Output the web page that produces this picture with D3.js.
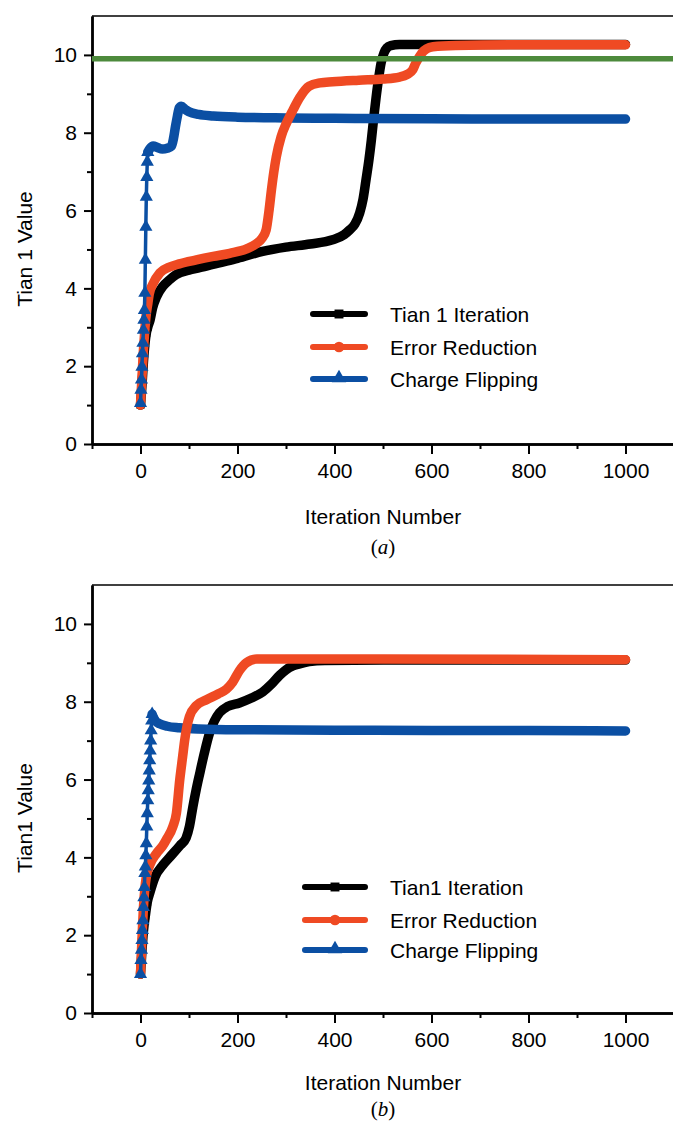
<!DOCTYPE html>
<html>
<head>
<meta charset="utf-8">
<script src="https://cdn.jsdelivr.net/npm/d3@7"></script>
<style>
  html, body { margin: 0; padding: 0; background: #fff; }
  svg { display: block; }
  text { font-family: "Liberation Sans", Arial, Helvetica, sans-serif; fill: #000; }
</style>
</head>
<body>
<svg id="chart" width="673" height="1129"></svg>
<script>
// ---- axis settings ----
const xDomain = [-100, 1100];
const yDomain = [0, 11];
const xMajorTicks = [0, 200, 400, 600, 800, 1000];
const xMinorTicks = [-100, 100, 300, 500, 700, 900, 1100];
const yMajorTicks = [0, 2, 4, 6, 8, 10];
const yMinorTicks = [1, 3, 5, 7, 9];

const xTitle = "Iteration Number";
const yTitleA = "Tian 1 Value";
const yTitleB = "Tian1 Value";
const legendNamesA = ["Tian 1 Iteration", "Error Reduction", "Charge Flipping"];
const legendNamesB = ["Tian1 Iteration", "Error Reduction", "Charge Flipping"];

// horizontal reference level in panel (a)
const referenceLevelA = 9.9;

// ---- panel (a): [iteration, value] ----
const tianA = [
  [0,1.0],[3,1.5],[6,2.1],[9,2.55],[12,2.85],[15,3.0],[20,3.2],[25,3.5],[33,3.78],
  [46,4.05],[60,4.22],[73,4.35],[100,4.47],[122,4.53],[160,4.65],[200,4.77],
  [252,4.95],[300,5.06],[350,5.14],[396,5.25],[420,5.38],[431,5.5],[442,5.65],
  [452,5.94],[459,6.3],[465,6.79],[471,7.3],[476,7.81],[481,8.4],[486,8.93],
  [491,9.4],[496,9.79],[502,10.05],[508,10.18],[516,10.24],[534,10.27],
  [600,10.27],[800,10.27],[1000,10.27]
];
const errorA = [
  [0,1.0],[3,1.7],[6,2.4],[9,2.95],[12,3.35],[15,3.6],[18,3.85],[25,4.1],[40,4.4],
  [60,4.55],[80,4.63],[115,4.73],[150,4.82],[184,4.9],[220,5.02],[239,5.15],
  [250,5.28],[259,5.5],[265,6.0],[270,6.53],[275,7.0],[280,7.38],[290,7.9],
  [301,8.25],[315,8.6],[328,8.9],[348,9.2],[370,9.28],[396,9.31],[450,9.35],
  [500,9.38],[534,9.43],[550,9.5],[561,9.61],[568,9.8],[575,9.95],[582,10.08],
  [590,10.16],[603,10.21],[650,10.24],[800,10.26],[1000,10.26]
];
const flipA = [
  [0,1.05],[1,1.39],[2,1.65],[3,1.98],[4,2.33],[5,2.6],[6,2.93],[7,3.19],[8,3.44],
  [9,3.88],[10,4.73],[11,5.58],[12,6.35],[13,6.86],[14,7.25],[15,7.5],
  [20,7.6],[26,7.66],[35,7.62],[45,7.58],[55,7.6],[64,7.66],[68,7.85],[72,8.15],
  [76,8.42],[80,8.64],[84,8.68],[92,8.6],[100,8.54],[120,8.47],[150,8.43],
  [200,8.4],[300,8.38],[400,8.37],[600,8.36],[800,8.35],[1000,8.35]
];

// ---- panel (b): [iteration, value] ----
const tianB = [
  [0,1.0],[3,1.6],[6,2.1],[10,2.5],[14,2.85],[19,3.08],[30,3.5],[46,3.8],[60,4.0],
  [81,4.3],[94,4.5],[101,4.8],[108,5.3],[115,5.75],[122,6.15],[132,6.7],
  [142,7.18],[152,7.5],[163,7.72],[180,7.88],[204,7.97],[230,8.1],[252,8.25],
  [270,8.45],[287,8.68],[300,8.82],[314,8.92],[330,8.98],[348,9.03],[380,9.06],
  [500,9.07],[1000,9.07]
];
const errorB = [
  [0,1.0],[3,1.9],[6,2.7],[9,3.2],[12,3.5],[19,3.8],[33,4.1],[46,4.3],[53,4.45],
  [67,4.8],[74,5.13],[81,6.0],[87,6.6],[91,7.0],[96,7.38],[101,7.62],[115,7.9],
  [136,8.05],[160,8.2],[177,8.32],[190,8.5],[204,8.8],[218,9.0],[240,9.1],
  [300,9.1],[500,9.1],[1000,9.08]
];
const flipB = [
  [0,1.0],[1,1.36],[2,1.62],[3,1.87],[4,2.13],[5,2.38],[6,2.72],[7,2.97],[8,3.23],
  [9,3.59],[10,3.76],[11,4.05],[12,4.36],[13,4.79],[14,5.13],[15,5.46],[16,5.72],
  [17,5.97],[18,6.23],[19,6.49],[20,6.74],[21,7.0],[22,7.26],[23,7.51],[24,7.68],
  [30,7.52],[40,7.43],[55,7.37],[80,7.33],[120,7.3],[200,7.28],[400,7.27],
  [600,7.26],[800,7.26],[1000,7.25]
];

// ---- styling ----
const seriesColors = ["#000000", "#ef4a23", "#0b4fa3"];
const seriesShapes = [d3.symbolSquare, d3.symbolCircle, d3.symbolTriangle];
const greenColor = "#4d8a3c";
const fontSize = 21;

const svg = d3.select("#chart");

function drawPanel(cfg) {
  const x = d3.scaleLinear().domain(xDomain).range([cfg.left, cfg.right]);
  const y = d3.scaleLinear().domain(yDomain).range([cfg.bottom, cfg.top]);
  const g = svg.append("g");

  // frame top edge
  g.append("line")
    .attr("x1", cfg.left).attr("x2", cfg.right)
    .attr("y1", cfg.top).attr("y2", cfg.top)
    .attr("stroke", "#000").attr("stroke-width", 1.6);

  // x axis: major ticks with labels, minor ticks without
  const xAxis = g.append("g").attr("transform", `translate(0,${cfg.bottom})`);
  xAxis.call(d3.axisBottom(x).tickValues(xMajorTicks).tickFormat(d3.format("d"))
    .tickSize(10).tickPadding(9).tickSizeOuter(0));
  xAxis.append("g").call(d3.axisBottom(x).tickValues(xMinorTicks).tickSize(5).tickFormat("").tickSizeOuter(0));
  // y axis
  const yAxis = g.append("g").attr("transform", `translate(${cfg.left},0)`);
  yAxis.call(d3.axisLeft(y).tickValues(yMajorTicks).tickFormat(d3.format("d"))
    .tickSize(8).tickPadding(7).tickSizeOuter(0));
  yAxis.append("g").call(d3.axisLeft(y).tickValues(yMinorTicks).tickSize(5).tickFormat("").tickSizeOuter(0));

  [xAxis, yAxis].forEach(a => {
    a.selectAll("path.domain").attr("stroke", "#000").attr("stroke-width", 2.4);
    a.selectAll("line").attr("stroke", "#000").attr("stroke-width", 2);
    a.selectAll("text").attr("font-size", fontSize).attr("font-family", '"Liberation Sans", Arial, sans-serif');
  });

  const clipId = "clip-" + cfg.tag;
  g.append("clipPath").attr("id", clipId).append("rect")
    .attr("x", cfg.left).attr("y", cfg.top)
    .attr("width", cfg.right - cfg.left).attr("height", cfg.bottom - cfg.top);
  const plot = g.append("g").attr("clip-path", `url(#${clipId})`);

  const line = d3.line().x(d => x(d[0])).y(d => y(d[1])).curve(d3.curveMonotoneX);

  // dense marker trail (one marker per iteration) rendered as a wide stroke
  function trail(data, color, start) {
    plot.append("path")
      .datum(data.filter(d => d[0] >= start))
      .attr("d", line).attr("fill", "none")
      .attr("stroke", color).attr("stroke-width", 9.5)
      .attr("stroke-linejoin", "round").attr("stroke-linecap", "round");
  }
  // sparse early iterations: thin line with individual markers
  function early(data, color, shape, size, limit) {
    const pts = data.filter(d => d[0] <= limit);
    plot.append("path").datum(pts).attr("d", line).attr("fill", "none")
      .attr("stroke", color).attr("stroke-width", 3.5);
    plot.selectAll(null).data(pts).enter().append("path")
      .attr("d", d3.symbol().type(shape).size(size))
      .attr("transform", d => `translate(${x(d[0])},${y(d[1])})`)
      .attr("fill", color);
  }

  const [s0, s1, s2] = cfg.series;
  trail(s0, seriesColors[0], 0);
  early(s0, seriesColors[0], seriesShapes[0], 60, 15);
  trail(s2, seriesColors[2], cfg.blueLimit);
  trail(s1, seriesColors[1], 0);
  early(s1, seriesColors[1], seriesShapes[1], 60, 15);
  early(s2, seriesColors[2], seriesShapes[2], 75, cfg.blueLimit);

  if (cfg.level !== undefined) {
    plot.append("line")
      .attr("x1", x(xDomain[0])).attr("x2", x(xDomain[1]))
      .attr("y1", y(cfg.level)).attr("y2", y(cfg.level))
      .attr("stroke", greenColor).attr("stroke-width", 5.5);
  }

  // legend
  cfg.names.forEach((name, i) => {
    const ly = cfg.legendRows[i];
    const cx = (cfg.legendX1 + cfg.legendX2) / 2;
    g.append("line")
      .attr("x1", cfg.legendX1).attr("x2", cfg.legendX2)
      .attr("y1", ly).attr("y2", ly)
      .attr("stroke", seriesColors[i]).attr("stroke-width", 6)
      .attr("stroke-linecap", "round");
    g.append("path")
      .attr("d", d3.symbol().type(seriesShapes[i]).size(i === 0 ? 80 : 90))
      .attr("transform", `translate(${cx},${ly - (i === 2 ? 1 : 0)})`)
      .attr("fill", seriesColors[i]);
    g.append("text")
      .attr("x", cfg.legendTextX).attr("y", ly)
      .attr("dominant-baseline", "central")
      .attr("font-size", fontSize)
      .text(name);
  });

  // axis titles
  g.append("text")
    .attr("x", (cfg.left + cfg.right) / 2).attr("y", cfg.xTitleY)
    .attr("text-anchor", "middle").attr("dominant-baseline", "central")
    .attr("font-size", fontSize).text(xTitle);
  g.append("text")
    .attr("transform", `translate(${cfg.yTitleX},${cfg.yTitleY}) rotate(-90)`)
    .attr("text-anchor", "middle").attr("dominant-baseline", "central")
    .attr("font-size", fontSize).text(cfg.yTitle);

  // panel tag
  const tag = g.append("text")
    .attr("x", (cfg.left + cfg.right) / 2).attr("y", cfg.tagY)
    .attr("text-anchor", "middle").attr("dominant-baseline", "central")
    .attr("font-size", 21)
    .style("font-family", '"Liberation Serif", "Times New Roman", serif');
  tag.append("tspan").text("(");
  tag.append("tspan").attr("font-style", "italic").text(cfg.tag);
  tag.append("tspan").text(")");
}

drawPanel({
  tag: "a", left: 92, right: 674, top: 16, bottom: 444,
  series: [tianA, errorA, flipA], blueLimit: 15,
  level: referenceLevelA,
  names: legendNamesA, legendX1: 313, legendX2: 365, legendTextX: 390,
  legendRows: [314, 347, 379],
  xTitleY: 516, yTitle: yTitleA, yTitleX: 24, yTitleY: 249, tagY: 547
});

drawPanel({
  tag: "b", left: 92, right: 674, top: 585, bottom: 1013,
  series: [tianB, errorB, flipB], blueLimit: 24,
  names: legendNamesB, legendX1: 305, legendX2: 365, legendTextX: 390,
  legendRows: [887, 920, 950],
  xTitleY: 1082, yTitle: yTitleB, yTitleX: 24, yTitleY: 818, tagY: 1109
});
</script>
</body>
</html>
